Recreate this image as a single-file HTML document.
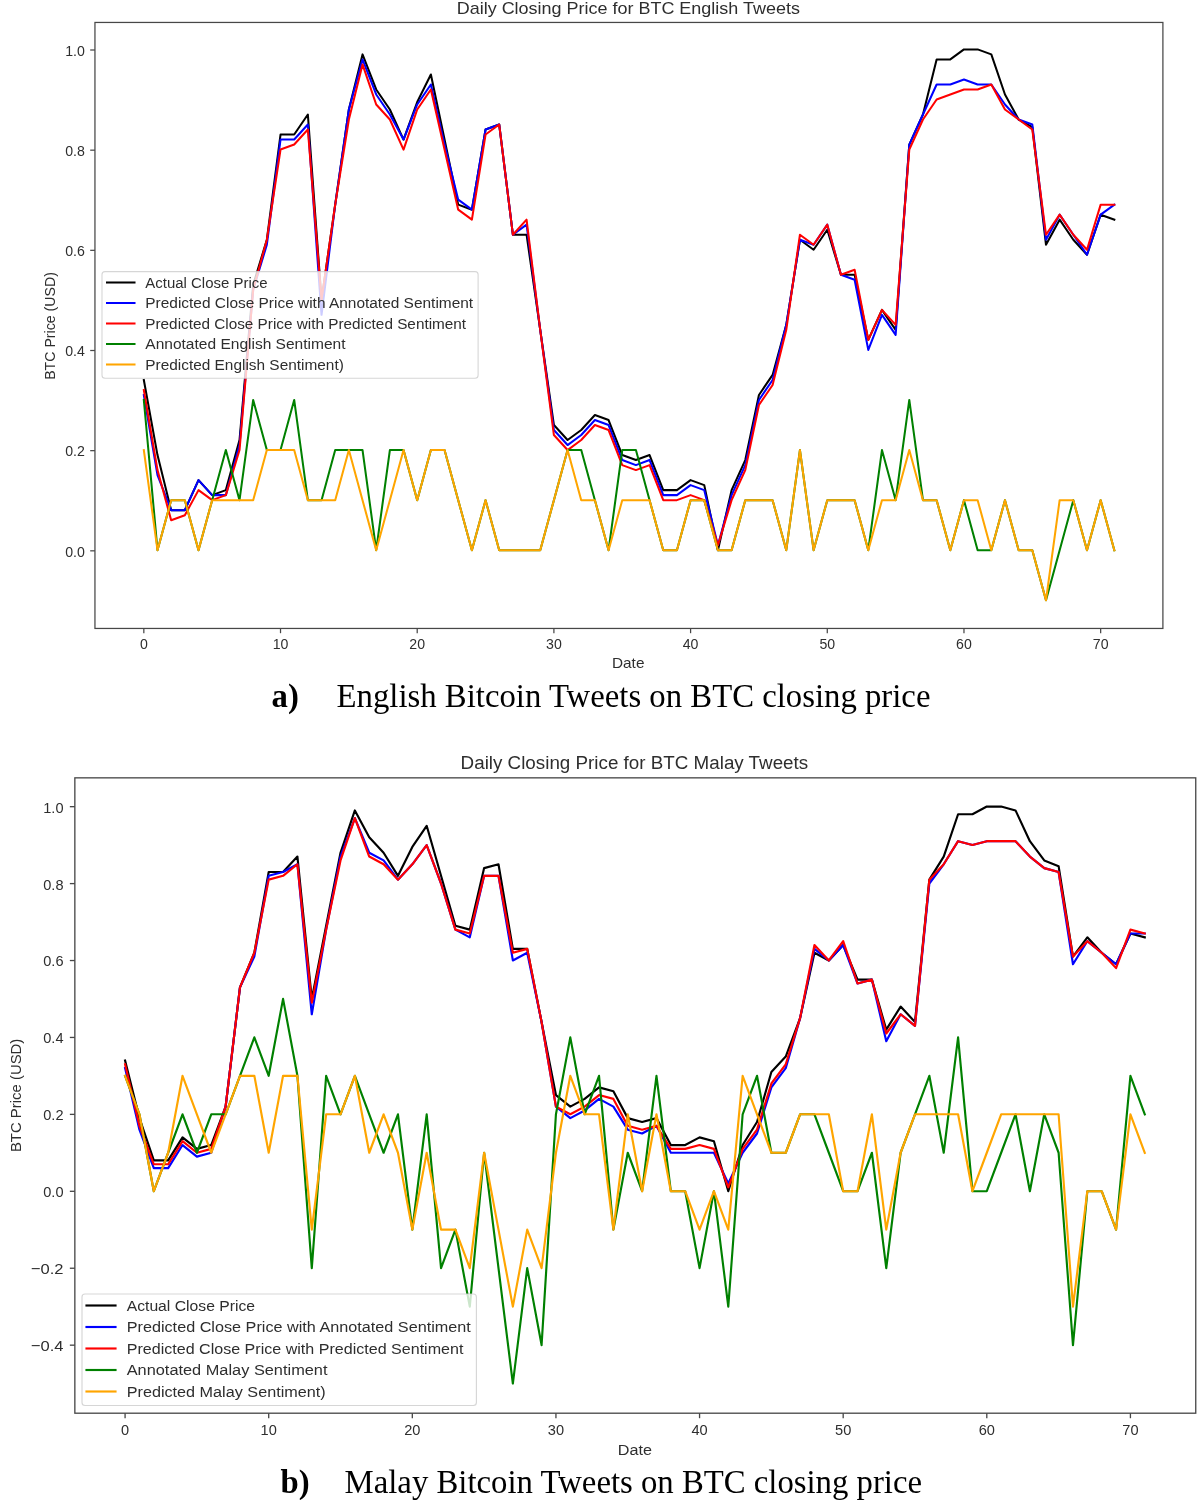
<!DOCTYPE html>
<html><head><meta charset="utf-8"><title>BTC closing price charts</title>
<style>html,body{margin:0;padding:0;background:#fff;width:1200px;height:1500px;overflow:hidden}svg{display:block;filter:blur(0.4px)}</style>
</head><body>
<svg width="1200" height="1500" viewBox="0 0 1200 1500">
<rect width="1200" height="1500" fill="#fff"/>
<g font-family="Liberation Sans, sans-serif" fill="#2e2e2e">
<clipPath id="clip1"><rect x="94.95" y="22.45" width="1067.95" height="606.0"/></clipPath>
<g clip-path="url(#clip1)" fill="none" stroke-width="2.04" stroke-linejoin="round" stroke-linecap="square">
<polyline stroke="#000000" points="143.83,379.95 157.50,455.07 171.17,510.16 184.84,510.16 198.51,480.11 212.18,495.14 225.84,490.13 239.51,440.05 253.18,284.79 266.85,239.72 280.52,134.54 294.19,134.54 307.86,114.51 321.53,299.82 335.20,204.66 348.87,109.50 362.53,54.41 376.20,89.47 389.87,109.50 403.54,139.55 417.21,101.99 430.88,74.44 444.55,139.55 458.22,204.66 471.89,209.67 485.56,129.53 499.22,124.52 512.89,234.71 526.56,234.71 540.23,329.86 553.90,425.02 567.57,440.05 581.24,430.03 594.91,415.01 608.58,420.01 622.25,455.07 635.91,460.08 649.58,455.07 663.25,490.13 676.92,490.13 690.59,480.11 704.26,485.12 717.93,550.23 731.60,490.13 745.27,460.08 758.94,394.97 772.60,374.94 786.27,324.86 799.94,239.72 813.61,249.73 827.28,229.70 840.95,274.77 854.62,274.77 868.29,339.88 881.96,309.83 895.63,329.86 909.29,144.56 922.96,114.51 936.63,59.42 950.30,59.42 963.97,49.40 977.64,49.40 991.31,54.41 1004.98,94.47 1018.65,119.52 1032.32,127.03 1045.98,244.72 1059.65,219.68 1073.32,239.72 1086.99,254.74 1100.66,214.67 1114.33,219.68"/>
<polyline stroke="#0000ff" points="143.83,394.97 157.50,475.11 171.17,510.16 184.84,510.16 198.51,480.11 212.18,495.14 225.84,495.14 239.51,445.06 253.18,289.80 266.85,244.72 280.52,139.55 294.19,139.55 307.86,124.52 321.53,314.84 335.20,204.66 348.87,109.50 362.53,59.42 376.20,94.47 389.87,114.51 403.54,139.55 417.21,104.49 430.88,84.46 444.55,144.56 458.22,199.65 471.89,209.67 485.56,129.53 499.22,124.52 512.89,234.71 526.56,224.69 540.23,329.86 553.90,430.03 567.57,445.06 581.24,435.04 594.91,420.01 608.58,425.02 622.25,460.08 635.91,465.09 649.58,460.08 663.25,495.14 676.92,495.14 690.59,485.12 704.26,490.13 717.93,545.22 731.60,495.14 745.27,465.09 758.94,399.98 772.60,379.95 786.27,324.86 799.94,239.72 813.61,244.72 827.28,224.69 840.95,274.77 854.62,279.78 868.29,349.90 881.96,314.84 895.63,334.87 909.29,144.56 922.96,114.51 936.63,84.46 950.30,84.46 963.97,79.45 977.64,84.46 991.31,84.46 1004.98,104.49 1018.65,119.52 1032.32,124.52 1045.98,239.72 1059.65,214.67 1073.32,234.71 1086.99,254.74 1100.66,214.67 1114.33,204.66"/>
<polyline stroke="#ff0000" points="143.83,389.96 157.50,470.10 171.17,520.18 184.84,515.17 198.51,490.13 212.18,500.15 225.84,495.14 239.51,450.06 253.18,289.80 266.85,239.72 280.52,149.57 294.19,144.56 307.86,129.53 321.53,299.82 335.20,204.66 348.87,119.52 362.53,64.42 376.20,104.49 389.87,119.52 403.54,149.57 417.21,109.50 430.88,89.47 444.55,149.57 458.22,209.67 471.89,219.68 485.56,134.54 499.22,124.52 512.89,234.71 526.56,219.68 540.23,329.86 553.90,435.04 567.57,450.06 581.24,440.05 594.91,425.02 608.58,430.03 622.25,465.09 635.91,470.10 649.58,465.09 663.25,500.15 676.92,500.15 690.59,495.14 704.26,500.15 717.93,545.22 731.60,500.15 745.27,470.10 758.94,404.99 772.60,384.96 786.27,329.86 799.94,234.71 813.61,244.72 827.28,224.69 840.95,274.77 854.62,269.77 868.29,339.88 881.96,309.83 895.63,324.86 909.29,149.57 922.96,119.52 936.63,99.48 950.30,94.47 963.97,89.47 977.64,89.47 991.31,84.46 1004.98,109.50 1018.65,119.52 1032.32,129.53 1045.98,234.71 1059.65,214.67 1073.32,234.71 1086.99,249.73 1100.66,204.66 1114.33,204.66"/>
<polyline stroke="#008000" points="143.83,399.98 157.50,550.23 171.17,500.15 184.84,500.15 198.51,550.23 212.18,500.15 225.84,450.06 239.51,500.15 253.18,399.98 266.85,450.06 280.52,450.06 294.19,399.98 307.86,500.15 321.53,500.15 335.20,450.06 348.87,450.06 362.53,450.06 376.20,550.23 389.87,450.06 403.54,450.06 417.21,500.15 430.88,450.06 444.55,450.06 458.22,500.15 471.89,550.23 485.56,500.15 499.22,550.23 512.89,550.23 526.56,550.23 540.23,550.23 553.90,500.15 567.57,450.06 581.24,450.06 594.91,500.15 608.58,550.23 622.25,450.06 635.91,450.06 649.58,500.15 663.25,550.23 676.92,550.23 690.59,500.15 704.26,500.15 717.93,550.23 731.60,550.23 745.27,500.15 758.94,500.15 772.60,500.15 786.27,550.23 799.94,450.06 813.61,550.23 827.28,500.15 840.95,500.15 854.62,500.15 868.29,550.23 881.96,450.06 895.63,500.15 909.29,399.98 922.96,500.15 936.63,500.15 950.30,550.23 963.97,500.15 977.64,550.23 991.31,550.23 1004.98,500.15 1018.65,550.23 1032.32,550.23 1045.98,600.31 1059.65,550.23 1073.32,500.15 1086.99,550.23 1100.66,500.15 1114.33,550.23"/>
<polyline stroke="#ffa500" points="143.83,450.06 157.50,550.23 171.17,500.15 184.84,500.15 198.51,550.23 212.18,500.15 225.84,500.15 239.51,500.15 253.18,500.15 266.85,450.06 280.52,450.06 294.19,450.06 307.86,500.15 321.53,500.15 335.20,500.15 348.87,450.06 362.53,500.15 376.20,550.23 389.87,500.15 403.54,450.06 417.21,500.15 430.88,450.06 444.55,450.06 458.22,500.15 471.89,550.23 485.56,500.15 499.22,550.23 512.89,550.23 526.56,550.23 540.23,550.23 553.90,500.15 567.57,450.06 581.24,500.15 594.91,500.15 608.58,550.23 622.25,500.15 635.91,500.15 649.58,500.15 663.25,550.23 676.92,550.23 690.59,500.15 704.26,500.15 717.93,550.23 731.60,550.23 745.27,500.15 758.94,500.15 772.60,500.15 786.27,550.23 799.94,450.06 813.61,550.23 827.28,500.15 840.95,500.15 854.62,500.15 868.29,550.23 881.96,500.15 895.63,500.15 909.29,450.06 922.96,500.15 936.63,500.15 950.30,550.23 963.97,500.15 977.64,500.15 991.31,550.23 1004.98,500.15 1018.65,550.23 1032.32,550.23 1045.98,600.31 1059.65,500.15 1073.32,500.15 1086.99,550.23 1100.66,500.15 1114.33,550.23"/>
</g>
<rect x="94.95" y="22.45" width="1067.95" height="606.0" fill="none" stroke="#474747" stroke-width="1.25" stroke-linejoin="miter"/>
<line x1="143.83" y1="628.45" x2="143.83" y2="633.20" stroke="#474747" stroke-width="1.25"/>
<text x="143.83" y="648.9" font-size="14.61" text-anchor="middle" textLength="7.86" lengthAdjust="spacingAndGlyphs">0</text>
<line x1="280.52" y1="628.45" x2="280.52" y2="633.20" stroke="#474747" stroke-width="1.25"/>
<text x="280.52" y="648.9" font-size="14.61" text-anchor="middle" textLength="15.72" lengthAdjust="spacingAndGlyphs">10</text>
<line x1="417.21" y1="628.45" x2="417.21" y2="633.20" stroke="#474747" stroke-width="1.25"/>
<text x="417.21" y="648.9" font-size="14.61" text-anchor="middle" textLength="15.72" lengthAdjust="spacingAndGlyphs">20</text>
<line x1="553.90" y1="628.45" x2="553.90" y2="633.20" stroke="#474747" stroke-width="1.25"/>
<text x="553.90" y="648.9" font-size="14.61" text-anchor="middle" textLength="15.72" lengthAdjust="spacingAndGlyphs">30</text>
<line x1="690.59" y1="628.45" x2="690.59" y2="633.20" stroke="#474747" stroke-width="1.25"/>
<text x="690.59" y="648.9" font-size="14.61" text-anchor="middle" textLength="15.72" lengthAdjust="spacingAndGlyphs">40</text>
<line x1="827.28" y1="628.45" x2="827.28" y2="633.20" stroke="#474747" stroke-width="1.25"/>
<text x="827.28" y="648.9" font-size="14.61" text-anchor="middle" textLength="15.72" lengthAdjust="spacingAndGlyphs">50</text>
<line x1="963.97" y1="628.45" x2="963.97" y2="633.20" stroke="#474747" stroke-width="1.25"/>
<text x="963.97" y="648.9" font-size="14.61" text-anchor="middle" textLength="15.72" lengthAdjust="spacingAndGlyphs">60</text>
<line x1="1100.66" y1="628.45" x2="1100.66" y2="633.20" stroke="#474747" stroke-width="1.25"/>
<text x="1100.66" y="648.9" font-size="14.61" text-anchor="middle" textLength="15.72" lengthAdjust="spacingAndGlyphs">70</text>
<line x1="90.20" y1="550.83" x2="94.95" y2="550.83" stroke="#474747" stroke-width="1.25"/>
<text x="84.9" y="556.53" font-size="14.61" text-anchor="end" textLength="19.65" lengthAdjust="spacingAndGlyphs">0.0</text>
<line x1="90.20" y1="450.66" x2="94.95" y2="450.66" stroke="#474747" stroke-width="1.25"/>
<text x="84.9" y="456.36" font-size="14.61" text-anchor="end" textLength="19.65" lengthAdjust="spacingAndGlyphs">0.2</text>
<line x1="90.20" y1="350.50" x2="94.95" y2="350.50" stroke="#474747" stroke-width="1.25"/>
<text x="84.9" y="356.20" font-size="14.61" text-anchor="end" textLength="19.65" lengthAdjust="spacingAndGlyphs">0.4</text>
<line x1="90.20" y1="250.33" x2="94.95" y2="250.33" stroke="#474747" stroke-width="1.25"/>
<text x="84.9" y="256.03" font-size="14.61" text-anchor="end" textLength="19.65" lengthAdjust="spacingAndGlyphs">0.6</text>
<line x1="90.20" y1="150.17" x2="94.95" y2="150.17" stroke="#474747" stroke-width="1.25"/>
<text x="84.9" y="155.87" font-size="14.61" text-anchor="end" textLength="19.65" lengthAdjust="spacingAndGlyphs">0.8</text>
<line x1="90.20" y1="50.00" x2="94.95" y2="50.00" stroke="#474747" stroke-width="1.25"/>
<text x="84.9" y="55.70" font-size="14.61" text-anchor="end" textLength="19.65" lengthAdjust="spacingAndGlyphs">1.0</text>
<text x="628.2" y="668.2" font-size="14.33" text-anchor="middle" textLength="32.46" lengthAdjust="spacingAndGlyphs">Date</text>
<text transform="translate(55.3,326.0) rotate(-90)" x="0" y="0" font-size="14.33" text-anchor="middle" textLength="107.67" lengthAdjust="spacingAndGlyphs">BTC Price (USD)</text>
<text x="628.3" y="14.0" font-size="17.35" text-anchor="middle" textLength="343.17" lengthAdjust="spacingAndGlyphs">Daily Closing Price for BTC English Tweets</text>
<rect x="102.0" y="271.6" width="376.1" height="106.69999999999999" rx="3" ry="3" fill="#fff" fill-opacity="0.8" stroke="#ccc" stroke-opacity="0.8" stroke-width="1.09"/>
<line x1="107.0" y1="282.50" x2="134.5" y2="282.50" stroke="#000000" stroke-width="2.04" stroke-linecap="square"/>
<text x="145.3" y="287.60" font-size="14.44" textLength="122.28" lengthAdjust="spacingAndGlyphs">Actual Close Price</text>
<line x1="107.0" y1="303.00" x2="134.5" y2="303.00" stroke="#0000ff" stroke-width="2.04" stroke-linecap="square"/>
<text x="145.3" y="308.10" font-size="14.44" textLength="327.85" lengthAdjust="spacingAndGlyphs">Predicted Close Price with Annotated Sentiment</text>
<line x1="107.0" y1="323.50" x2="134.5" y2="323.50" stroke="#ff0000" stroke-width="2.04" stroke-linecap="square"/>
<text x="145.3" y="328.60" font-size="14.44" textLength="320.79" lengthAdjust="spacingAndGlyphs">Predicted Close Price with Predicted Sentiment</text>
<line x1="107.0" y1="344.00" x2="134.5" y2="344.00" stroke="#008000" stroke-width="2.04" stroke-linecap="square"/>
<text x="145.3" y="349.10" font-size="14.44" textLength="200.23" lengthAdjust="spacingAndGlyphs">Annotated English Sentiment</text>
<line x1="107.0" y1="364.50" x2="134.5" y2="364.50" stroke="#ffa500" stroke-width="2.04" stroke-linecap="square"/>
<text x="145.3" y="369.60" font-size="14.44" textLength="198.51" lengthAdjust="spacingAndGlyphs">Predicted English Sentiment)</text>
<clipPath id="clip2"><rect x="74.85" y="777.85" width="1120.9" height="635.35"/></clipPath>
<g clip-path="url(#clip2)" fill="none" stroke-width="2.15" stroke-linejoin="round" stroke-linecap="square">
<polyline stroke="#000000" points="125.08,1060.43 139.44,1118.13 153.80,1160.44 168.17,1160.44 182.53,1137.36 196.89,1148.90 211.25,1145.05 225.61,1106.59 239.98,987.35 254.34,952.73 268.70,871.96 283.06,871.96 297.42,856.57 311.79,998.89 326.15,925.81 340.51,852.73 354.87,810.42 369.23,837.34 383.60,852.73 397.96,875.81 412.32,846.96 426.68,825.80 441.04,875.81 455.41,925.81 469.77,929.65 484.13,868.11 498.49,864.27 512.85,948.89 527.22,948.89 541.58,1021.97 555.94,1095.05 570.30,1106.59 584.66,1098.90 599.03,1087.36 613.39,1091.20 627.75,1118.13 642.11,1121.97 656.47,1118.13 670.84,1145.05 685.20,1145.05 699.56,1137.36 713.92,1141.21 728.28,1191.21 742.65,1145.05 757.01,1121.97 771.37,1071.97 785.73,1056.59 800.09,1018.12 814.46,952.73 828.82,960.43 843.18,945.04 857.54,979.66 871.90,979.66 886.27,1029.66 900.63,1006.58 914.99,1021.97 929.35,879.65 943.71,856.57 958.08,814.26 972.44,814.26 986.80,806.57 1001.16,806.57 1015.52,810.42 1029.89,841.19 1044.25,860.42 1058.61,866.19 1072.97,956.58 1087.33,937.35 1101.70,952.73 1116.06,964.27 1130.42,933.50 1144.78,937.35"/>
<polyline stroke="#0000ff" points="125.08,1068.13 139.44,1129.67 153.80,1168.13 168.17,1168.13 182.53,1145.05 196.89,1156.59 211.25,1152.75 225.61,1106.59 239.98,987.35 254.34,956.58 268.70,875.81 283.06,871.96 297.42,864.27 311.79,1014.28 326.15,929.65 340.51,856.57 354.87,818.11 369.23,852.73 383.60,860.42 397.96,879.65 412.32,864.27 426.68,845.03 441.04,883.50 455.41,929.65 469.77,937.35 484.13,875.81 498.49,875.81 512.85,960.43 527.22,952.73 541.58,1021.97 555.94,1106.59 570.30,1118.13 584.66,1110.44 599.03,1098.90 613.39,1106.59 627.75,1129.67 642.11,1133.51 656.47,1125.82 670.84,1152.75 685.20,1152.75 699.56,1152.75 713.92,1152.75 728.28,1183.52 742.65,1152.75 757.01,1133.51 771.37,1087.36 785.73,1068.13 800.09,1018.12 814.46,948.89 828.82,960.43 843.18,945.04 857.54,983.50 871.90,979.66 886.27,1041.20 900.63,1014.28 914.99,1025.81 929.35,883.50 943.71,864.27 958.08,841.19 972.44,845.03 986.80,841.19 1001.16,841.19 1015.52,841.19 1029.89,856.57 1044.25,868.11 1058.61,871.96 1072.97,964.27 1087.33,941.19 1101.70,952.73 1116.06,964.27 1130.42,933.50 1144.78,933.50"/>
<polyline stroke="#ff0000" points="125.08,1064.28 139.44,1125.82 153.80,1164.29 168.17,1164.29 182.53,1141.21 196.89,1152.75 211.25,1148.90 225.61,1106.59 239.98,987.35 254.34,952.73 268.70,879.65 283.06,875.81 297.42,864.27 311.79,1002.74 326.15,929.65 340.51,860.42 354.87,818.11 369.23,856.57 383.60,864.27 397.96,879.65 412.32,864.27 426.68,845.03 441.04,883.50 455.41,929.65 469.77,933.50 484.13,875.81 498.49,875.81 512.85,952.73 527.22,948.89 541.58,1021.97 555.94,1106.59 570.30,1114.28 584.66,1106.59 599.03,1095.05 613.39,1098.90 627.75,1125.82 642.11,1129.67 656.47,1125.82 670.84,1148.90 685.20,1148.90 699.56,1145.05 713.92,1148.90 728.28,1187.36 742.65,1148.90 757.01,1129.67 771.37,1083.51 785.73,1064.28 800.09,1018.12 814.46,945.04 828.82,960.43 843.18,941.19 857.54,983.50 871.90,979.66 886.27,1033.51 900.63,1014.28 914.99,1025.81 929.35,879.65 943.71,864.27 958.08,841.19 972.44,845.03 986.80,841.19 1001.16,841.19 1015.52,841.19 1029.89,856.57 1044.25,868.11 1058.61,871.96 1072.97,956.58 1087.33,941.19 1101.70,952.73 1116.06,968.12 1130.42,929.65 1144.78,933.50"/>
<polyline stroke="#008000" points="125.08,1075.82 139.44,1114.28 153.80,1191.21 168.17,1152.75 182.53,1114.28 196.89,1152.75 211.25,1114.28 225.61,1114.28 239.98,1075.82 254.34,1037.35 268.70,1075.82 283.06,998.89 297.42,1075.82 311.79,1268.14 326.15,1075.82 340.51,1114.28 354.87,1075.82 369.23,1114.28 383.60,1152.75 397.96,1114.28 412.32,1229.67 426.68,1114.28 441.04,1268.14 455.41,1229.67 469.77,1306.60 484.13,1152.75 498.49,1268.14 512.85,1383.53 527.22,1268.14 541.58,1345.07 555.94,1114.28 570.30,1037.35 584.66,1114.28 599.03,1075.82 613.39,1229.67 627.75,1152.75 642.11,1191.21 656.47,1075.82 670.84,1191.21 685.20,1191.21 699.56,1268.14 713.92,1191.21 728.28,1306.60 742.65,1114.28 757.01,1075.82 771.37,1152.75 785.73,1152.75 800.09,1114.28 814.46,1114.28 828.82,1152.75 843.18,1191.21 857.54,1191.21 871.90,1152.75 886.27,1268.14 900.63,1152.75 914.99,1114.28 929.35,1075.82 943.71,1152.75 958.08,1037.35 972.44,1191.21 986.80,1191.21 1001.16,1152.75 1015.52,1114.28 1029.89,1191.21 1044.25,1114.28 1058.61,1152.75 1072.97,1345.07 1087.33,1191.21 1101.70,1191.21 1116.06,1229.67 1130.42,1075.82 1144.78,1114.28"/>
<polyline stroke="#ffa500" points="125.08,1075.82 139.44,1114.28 153.80,1191.21 168.17,1152.75 182.53,1075.82 196.89,1114.28 211.25,1152.75 225.61,1114.28 239.98,1075.82 254.34,1075.82 268.70,1152.75 283.06,1075.82 297.42,1075.82 311.79,1229.67 326.15,1114.28 340.51,1114.28 354.87,1075.82 369.23,1152.75 383.60,1114.28 397.96,1152.75 412.32,1229.67 426.68,1152.75 441.04,1229.67 455.41,1229.67 469.77,1268.14 484.13,1152.75 498.49,1229.67 512.85,1306.60 527.22,1229.67 541.58,1268.14 555.94,1152.75 570.30,1075.82 584.66,1114.28 599.03,1114.28 613.39,1229.67 627.75,1114.28 642.11,1191.21 656.47,1114.28 670.84,1191.21 685.20,1191.21 699.56,1229.67 713.92,1191.21 728.28,1229.67 742.65,1075.82 757.01,1114.28 771.37,1152.75 785.73,1152.75 800.09,1114.28 814.46,1114.28 828.82,1114.28 843.18,1191.21 857.54,1191.21 871.90,1114.28 886.27,1229.67 900.63,1152.75 914.99,1114.28 929.35,1114.28 943.71,1114.28 958.08,1114.28 972.44,1191.21 986.80,1152.75 1001.16,1114.28 1015.52,1114.28 1029.89,1114.28 1044.25,1114.28 1058.61,1114.28 1072.97,1306.60 1087.33,1191.21 1101.70,1191.21 1116.06,1229.67 1130.42,1114.28 1144.78,1152.75"/>
</g>
<rect x="74.85" y="777.85" width="1120.9" height="635.35" fill="none" stroke="#474747" stroke-width="1.32" stroke-linejoin="miter"/>
<line x1="125.08" y1="1413.2" x2="125.08" y2="1418.21" stroke="#474747" stroke-width="1.32"/>
<text x="125.08" y="1434.5" font-size="15.55" text-anchor="middle" textLength="8.10" lengthAdjust="spacingAndGlyphs">0</text>
<line x1="268.70" y1="1413.2" x2="268.70" y2="1418.21" stroke="#474747" stroke-width="1.32"/>
<text x="268.70" y="1434.5" font-size="15.55" text-anchor="middle" textLength="16.21" lengthAdjust="spacingAndGlyphs">10</text>
<line x1="412.32" y1="1413.2" x2="412.32" y2="1418.21" stroke="#474747" stroke-width="1.32"/>
<text x="412.32" y="1434.5" font-size="15.55" text-anchor="middle" textLength="16.21" lengthAdjust="spacingAndGlyphs">20</text>
<line x1="555.94" y1="1413.2" x2="555.94" y2="1418.21" stroke="#474747" stroke-width="1.32"/>
<text x="555.94" y="1434.5" font-size="15.55" text-anchor="middle" textLength="16.21" lengthAdjust="spacingAndGlyphs">30</text>
<line x1="699.56" y1="1413.2" x2="699.56" y2="1418.21" stroke="#474747" stroke-width="1.32"/>
<text x="699.56" y="1434.5" font-size="15.55" text-anchor="middle" textLength="16.21" lengthAdjust="spacingAndGlyphs">40</text>
<line x1="843.18" y1="1413.2" x2="843.18" y2="1418.21" stroke="#474747" stroke-width="1.32"/>
<text x="843.18" y="1434.5" font-size="15.55" text-anchor="middle" textLength="16.21" lengthAdjust="spacingAndGlyphs">50</text>
<line x1="986.80" y1="1413.2" x2="986.80" y2="1418.21" stroke="#474747" stroke-width="1.32"/>
<text x="986.80" y="1434.5" font-size="15.55" text-anchor="middle" textLength="16.21" lengthAdjust="spacingAndGlyphs">60</text>
<line x1="1130.42" y1="1413.2" x2="1130.42" y2="1418.21" stroke="#474747" stroke-width="1.32"/>
<text x="1130.42" y="1434.5" font-size="15.55" text-anchor="middle" textLength="16.21" lengthAdjust="spacingAndGlyphs">70</text>
<line x1="69.84" y1="1345.17" x2="74.85" y2="1345.17" stroke="#474747" stroke-width="1.32"/>
<text x="63.5" y="1351.07" font-size="15.55" text-anchor="end" textLength="32.66" lengthAdjust="spacingAndGlyphs">−0.4</text>
<line x1="69.84" y1="1268.24" x2="74.85" y2="1268.24" stroke="#474747" stroke-width="1.32"/>
<text x="63.5" y="1274.14" font-size="15.55" text-anchor="end" textLength="32.66" lengthAdjust="spacingAndGlyphs">−0.2</text>
<line x1="69.84" y1="1191.31" x2="74.85" y2="1191.31" stroke="#474747" stroke-width="1.32"/>
<text x="63.5" y="1197.21" font-size="15.55" text-anchor="end" textLength="20.25" lengthAdjust="spacingAndGlyphs">0.0</text>
<line x1="69.84" y1="1114.38" x2="74.85" y2="1114.38" stroke="#474747" stroke-width="1.32"/>
<text x="63.5" y="1120.28" font-size="15.55" text-anchor="end" textLength="20.25" lengthAdjust="spacingAndGlyphs">0.2</text>
<line x1="69.84" y1="1037.45" x2="74.85" y2="1037.45" stroke="#474747" stroke-width="1.32"/>
<text x="63.5" y="1043.35" font-size="15.55" text-anchor="end" textLength="20.25" lengthAdjust="spacingAndGlyphs">0.4</text>
<line x1="69.84" y1="960.53" x2="74.85" y2="960.53" stroke="#474747" stroke-width="1.32"/>
<text x="63.5" y="966.43" font-size="15.55" text-anchor="end" textLength="20.25" lengthAdjust="spacingAndGlyphs">0.6</text>
<line x1="69.84" y1="883.60" x2="74.85" y2="883.60" stroke="#474747" stroke-width="1.32"/>
<text x="63.5" y="889.50" font-size="15.55" text-anchor="end" textLength="20.25" lengthAdjust="spacingAndGlyphs">0.8</text>
<line x1="69.84" y1="806.67" x2="74.85" y2="806.67" stroke="#474747" stroke-width="1.32"/>
<text x="63.5" y="812.57" font-size="15.55" text-anchor="end" textLength="20.25" lengthAdjust="spacingAndGlyphs">1.0</text>
<text x="634.9" y="1455.2" font-size="15.10" text-anchor="middle" textLength="34.20" lengthAdjust="spacingAndGlyphs">Date</text>
<text transform="translate(20.7,1095.4) rotate(-90)" x="0" y="0" font-size="15.10" text-anchor="middle" textLength="113.46" lengthAdjust="spacingAndGlyphs">BTC Price (USD)</text>
<text x="634.4" y="769.0" font-size="18.15" text-anchor="middle" textLength="347.59" lengthAdjust="spacingAndGlyphs">Daily Closing Price for BTC Malay Tweets</text>
<rect x="82.0" y="1294.0" width="394.4" height="111.5" rx="3" ry="3" fill="#fff" fill-opacity="0.8" stroke="#ccc" stroke-opacity="0.8" stroke-width="1.14"/>
<line x1="86.5" y1="1305.50" x2="115.5" y2="1305.50" stroke="#000000" stroke-width="2.15" stroke-linecap="square"/>
<text x="126.7" y="1310.80" font-size="15.16" textLength="128.36" lengthAdjust="spacingAndGlyphs">Actual Close Price</text>
<line x1="86.5" y1="1327.00" x2="115.5" y2="1327.00" stroke="#0000ff" stroke-width="2.15" stroke-linecap="square"/>
<text x="126.7" y="1332.30" font-size="15.16" textLength="344.14" lengthAdjust="spacingAndGlyphs">Predicted Close Price with Annotated Sentiment</text>
<line x1="86.5" y1="1348.50" x2="115.5" y2="1348.50" stroke="#ff0000" stroke-width="2.15" stroke-linecap="square"/>
<text x="126.7" y="1353.80" font-size="15.16" textLength="336.72" lengthAdjust="spacingAndGlyphs">Predicted Close Price with Predicted Sentiment</text>
<line x1="86.5" y1="1370.00" x2="115.5" y2="1370.00" stroke="#008000" stroke-width="2.15" stroke-linecap="square"/>
<text x="126.7" y="1375.30" font-size="15.16" textLength="200.79" lengthAdjust="spacingAndGlyphs">Annotated Malay Sentiment</text>
<line x1="86.5" y1="1391.50" x2="115.5" y2="1391.50" stroke="#ffa500" stroke-width="2.15" stroke-linecap="square"/>
<text x="126.7" y="1396.80" font-size="15.16" textLength="198.98" lengthAdjust="spacingAndGlyphs">Predicted Malay Sentiment)</text>
</g>
<g font-family="Liberation Serif, serif" fill="#000" font-size="32.75">
<text x="271.5" y="706.5" font-weight="bold">a)</text>
<text x="336.6" y="706.5">English Bitcoin Tweets on BTC closing price</text>
<text x="280.6" y="1492.5" font-weight="bold">b)</text>
<text x="344.6" y="1492.5">Malay Bitcoin Tweets on BTC closing price</text>
</g>
</svg>
</body></html>
